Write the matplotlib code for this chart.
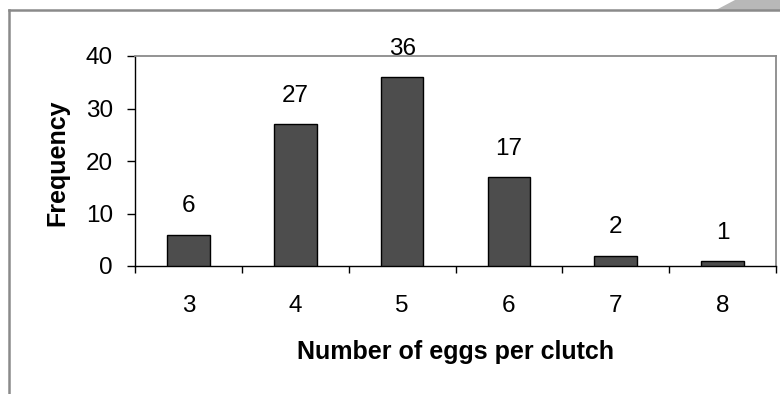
import matplotlib
matplotlib.use("Agg")
import matplotlib.pyplot as plt
from matplotlib.patches import Polygon
from matplotlib.lines import Line2D

categories = ["3", "4", "5", "6", "7", "8"]
frequency = [6, 27, 36, 17, 2, 1]
y_ticks = [0, 10, 20, 30, 40]

plt.rcParams['font.family'] = ['Liberation Sans', 'DejaVu Sans']

W, H = 780, 394
fig = plt.figure(figsize=(W / 100, H / 100), dpi=100)
fig.patch.set_facecolor("white")

# outer frame decoration
fig.add_artist(Line2D([9 / W, 1.0], [1 - 10 / H, 1 - 10 / H], color="#8a8a8a", lw=1.8, transform=fig.transFigure))
fig.add_artist(Line2D([9 / W, 9 / W], [0, 1 - 10 / H], color="#8a8a8a", lw=1.8, transform=fig.transFigure))
fig.add_artist(Polygon([[716 / W, 1 - 10 / H], [735 / W, 1.0], [1.0, 1.0], [1.0, 1 - 10 / H]],
                       closed=True, facecolor="#b8b8b8", edgecolor="none", transform=fig.transFigure))

left, right = 135 / W, 776 / W
bottom, top = 1 - 266 / H, 1 - 56 / H
ax = fig.add_axes([left, bottom, right - left, top - bottom])

FS = 17.5
x = list(range(len(categories)))
ax.bar(x, frequency, width=0.4, color="#4d4d4d", edgecolor="black", linewidth=1.0, zorder=3)
for xi, v in zip(x, frequency):
    ax.annotate(str(v), (xi, v), xytext=(0, 16), textcoords="offset points",
                ha="center", va="baseline", fontsize=FS, annotation_clip=False, clip_on=False, zorder=5)

ax.set_xlim(-0.5, len(categories) - 0.5)
ax.set_ylim(0, 40)
ax.set_yticks(y_ticks)
ax.set_yticklabels([str(t) for t in y_ticks], fontsize=FS)
ax.tick_params(axis="y", direction="out", length=6, width=1, pad=10)

ax.set_xticks([i - 0.5 for i in range(len(categories) + 1)])
ax.set_xticklabels([])
ax.set_xticks(x, minor=True)
ax.set_xticklabels(categories, minor=True, fontsize=FS)
ax.tick_params(axis="x", which="major", direction="out", length=5, width=1)
ax.tick_params(axis="x", which="minor", length=0, pad=21)

for s in ["top", "right"]:
    ax.spines[s].set_color("#8a8a8a")
    ax.spines[s].set_linewidth(1.3)
for s in ["left", "bottom"]:
    ax.spines[s].set_color("black")
    ax.spines[s].set_linewidth(1.0)

ax.set_ylabel("Frequency", fontsize=18, fontweight="bold")
ax.set_xlabel("Number of eggs per clutch", fontsize=18, fontweight="bold")
ax.xaxis.set_label_coords(0.5, (266 - 352) / 210)
ax.xaxis.label.set_va("center")
ax.yaxis.set_label_coords((57 - 135) / 641, 0.49)
ax.yaxis.label.set_va("center")

fig.savefig("out.png", dpi=100)
